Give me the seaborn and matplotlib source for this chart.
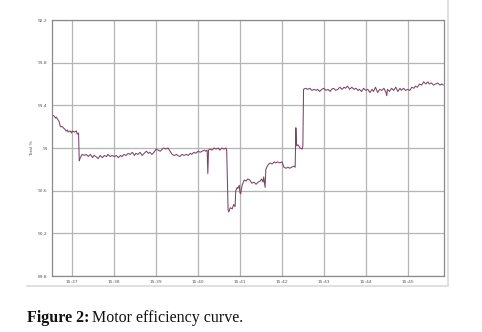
import numpy as np
import pandas as pd
import matplotlib
matplotlib.use("Agg")
import matplotlib.pyplot as plt
import seaborn as sns
from matplotlib.lines import Line2D

# seconds after 15:36:30
seconds = [
    1, 4, 6, 7, 9, 10, 11, 13, 16, 17, 19, 21, 23, 24, 27, 29, 30, 33, 36, 37, 39,
    40, 41, 44, 47, 50, 53, 56, 59, 61, 64, 67, 70, 73, 76, 79, 81, 84, 87, 90, 93, 96, 99,
    101, 104, 107, 110, 113, 116, 119, 121, 124, 127, 130, 133, 136, 139, 141, 144, 147,
    150, 153, 156, 159, 161, 164, 167, 170, 173, 176, 179, 181, 184, 187, 190, 193, 196,
    199, 201, 204, 207, 210, 213, 216, 219, 221, 223,
    224, 225, 227, 230, 233, 236, 239, 241, 244, 247, 250, 251,
    253, 254, 256, 259, 261, 263, 264, 266, 267, 269, 270, 271, 273, 276, 279, 281, 284,
    287, 290, 293, 296, 299, 301, 303, 304, 306, 307, 310, 313, 316, 319, 321, 324, 327,
    330, 333, 336, 339, 341, 344, 347, 349, 350, 351, 353, 356, 359, 360,
    361, 364, 367, 370, 373, 376, 379, 381, 384, 387, 390, 393, 396, 399, 401, 404, 407,
    410, 413, 416, 419, 421, 424, 427, 430, 433, 436, 439, 441, 444, 447, 450, 453, 456,
    459, 461, 464, 467, 470, 473, 476, 479, 480, 481, 484, 487, 490, 493, 496, 499, 501,
    504, 507, 510, 513, 516, 519, 521, 524, 527, 530, 533, 536, 539, 541, 544, 547, 550,
    553, 556, 559, 561,
]
efficiency = [
    91.31, 91.30, 91.28, 91.29, 91.27, 91.26, 91.25, 91.20, 91.20, 91.19, 91.18, 91.16, 91.17,
    91.15, 91.16, 91.14, 91.16, 91.15, 91.16, 91.13, 91.14,
    90.88, 90.90, 90.94, 90.93, 90.94, 90.92, 90.94, 90.91, 90.93, 90.92, 90.90, 90.93, 90.91,
    90.93, 90.92, 90.94, 90.92, 90.93, 90.92, 90.93, 90.91, 90.93,
    90.92, 90.94, 90.93, 90.95, 90.94, 90.96, 90.93, 90.95, 90.94, 90.96, 90.93, 90.95, 90.97,
    90.95, 90.96, 90.94,
    90.96, 90.99, 90.98, 90.97, 90.99, 91.00, 90.99, 91.00, 90.97, 90.94, 90.93, 90.94, 90.93,
    90.92, 90.94, 90.93, 90.94, 90.93, 90.95,
    90.94, 90.96, 90.95, 90.97, 90.96, 90.97, 90.98, 90.97, 90.98,
    90.76, 90.98, 90.99, 90.98, 91.00, 90.99, 91.00, 90.98, 91.00, 90.99, 91.00, 90.98,
    90.42, 90.40, 90.44, 90.43, 90.47, 90.45, 90.60, 90.63, 90.62, 90.65, 90.58, 90.57, 90.65,
    90.70, 90.69, 90.71, 90.70,
    90.67, 90.68, 90.66, 90.68, 90.69, 90.71, 90.68, 90.73, 90.63, 90.80, 90.84, 90.86, 90.85,
    90.87, 90.86, 90.87, 90.86,
    90.87, 90.82, 90.81, 90.82, 90.81, 90.82, 90.83, 90.82, 91.19, 91.02, 91.03, 91.00, 90.99,
    91.02,
    91.55, 91.56, 91.55, 91.56, 91.54, 91.55, 91.54, 91.55, 91.53, 91.55, 91.56, 91.54, 91.55,
    91.53, 91.55, 91.56, 91.54,
    91.55, 91.57, 91.55, 91.57, 91.56, 91.58, 91.55, 91.57, 91.55, 91.56, 91.54, 91.55, 91.53,
    91.56, 91.54, 91.55, 91.52,
    91.55, 91.53, 91.57, 91.52, 91.55, 91.54, 91.56, 91.52, 91.49, 91.55, 91.53, 91.56, 91.54,
    91.57, 91.53, 91.56, 91.54,
    91.56, 91.54, 91.55, 91.54, 91.57, 91.56, 91.58, 91.57, 91.60, 91.59, 91.62, 91.60, 91.62,
    91.60, 91.61, 91.59, 91.60,
    91.61, 91.59, 91.60, 91.59,
]
x_tick_pos = [30, 90, 150, 210, 270, 330, 390, 450, 510]
x_tick_labels = ["15:37", "15:38", "15:39", "15:40", "15:41", "15:42", "15:43", "15:44", "15:45"]
y_ticks = [89.8, 90.2, 90.6, 91.0, 91.4, 91.8, 92.2]
y_tick_labels = ["89.8", "90.2", "90.6", "91", "91.4", "91.8", "92.2"]

df = pd.DataFrame({"t": seconds, "eff": efficiency})

sns.set_theme(style="white")
plt.rcParams["font.family"] = ["DejaVu Sans"]

fig = plt.figure(figsize=(4.82, 3.32), dpi=100)
ax = fig.add_axes([52 / 482, 1 - 276 / 332, (444 - 52) / 482, (276 - 20) / 332])

sns.lineplot(data=df, x="t", y="eff", ax=ax, color="#7a4563", linewidth=0.75)

ax.set_xlim(1, 562)
ax.set_ylim(89.8, 92.2)
ax.set_xticks(x_tick_pos)
ax.set_xticklabels(x_tick_labels)
ax.set_yticks(y_ticks)
ax.set_yticklabels(y_tick_labels)
ax.grid(True, color="#b4b4b4", linewidth=0.9)
ax.tick_params(axis="both", labelsize=3.2, colors="#555555", length=0, pad=3)
ax.set_xlabel("")
ax.set_ylabel("Total %", fontsize=3.2, color="#555555", labelpad=3)
for s in ax.spines.values():
    s.set_color("#8a8a8a")
    s.set_linewidth(0.9)
ax.minorticks_off()

# outer light frame (right and bottom edges)
fig.lines.append(Line2D([448 / 482, 448 / 482], [1.0, 1 - 286 / 332], transform=fig.transFigure,
                        color="#e0e0e0", linewidth=1.5))
fig.lines.append(Line2D([27 / 482, 448 / 482], [1 - 286 / 332, 1 - 286 / 332],
                        transform=fig.transFigure, color="#e0e0e0", linewidth=1.5))

t1 = fig.text(27 / 482, 1 - 318 / 332, "Figure 2:", fontsize=11.5, fontweight="bold",
              family=["Liberation Serif"], va="center", ha="left", color="#111111")
fig.canvas.draw()
bb = t1.get_window_extent()
fig.text((bb.x1 + 3) / 482, 1 - 318 / 332, "Motor efficiency curve.", fontsize=11.5,
         family=["Liberation Serif"], va="center", ha="left", color="#111111")

fig.savefig("out.png", dpi=100)
